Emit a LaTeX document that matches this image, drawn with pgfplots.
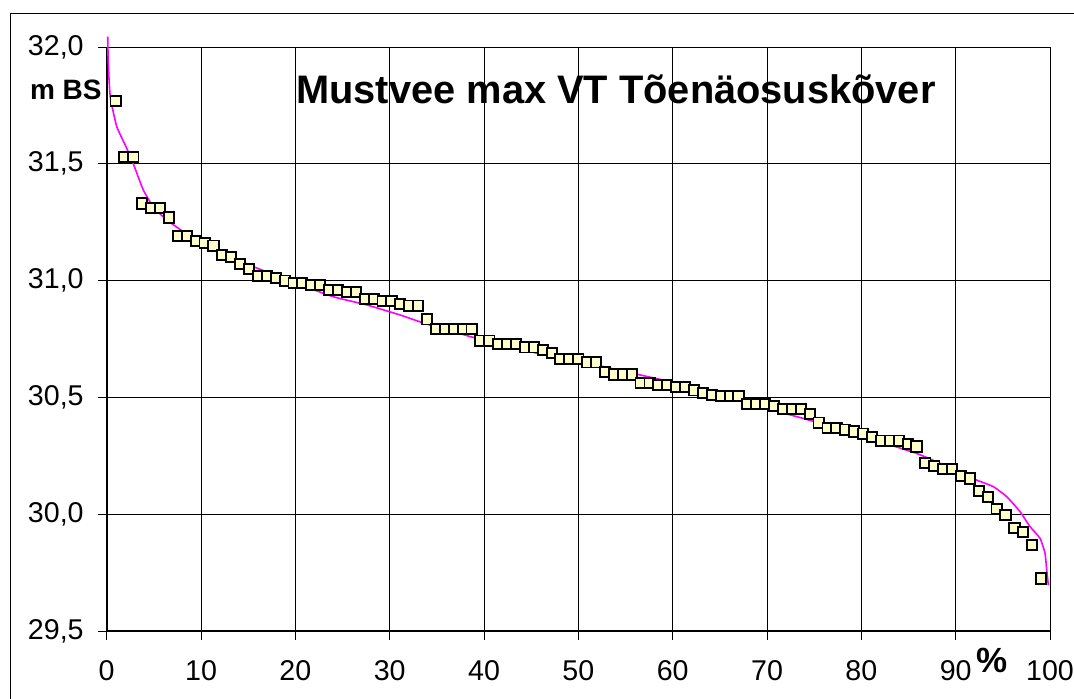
\documentclass[border=0pt]{standalone}
\usepackage{fontspec}
\setmainfont{Liberation Sans}
\usepackage{pgfplots}
\pgfplotsset{compat=1.18}
\usepackage{pgfplotstable}
\definecolor{markfill}{HTML}{FFFFCC}
\definecolor{curvecol}{HTML}{FF00FF}

\pgfplotstableread{
x y
0.94 31.77
1.89 31.53
2.83 31.53
3.77 31.33
4.72 31.31
5.66 31.31
6.60 31.27
7.55 31.19
8.49 31.19
9.43 31.17
10.38 31.16
11.32 31.15
12.26 31.11
13.21 31.10
14.15 31.07
15.09 31.05
16.04 31.02
16.98 31.02
17.92 31.01
18.87 31.00
19.81 30.99
20.75 30.99
21.70 30.98
22.64 30.98
23.58 30.96
24.53 30.96
25.47 30.95
26.42 30.95
27.36 30.92
28.30 30.92
29.25 30.913
30.19 30.913
31.13 30.90
32.08 30.893
33.02 30.893
33.96 30.834
34.91 30.794
35.85 30.794
36.79 30.794
37.74 30.794
38.68 30.794
39.62 30.743
40.57 30.743
41.51 30.729
42.45 30.729
43.40 30.729
44.34 30.714
45.28 30.714
46.23 30.703
47.17 30.689
48.11 30.664
49.06 30.664
50.00 30.664
50.94 30.65
51.89 30.65
52.83 30.608
53.77 30.598
54.72 30.598
55.66 30.598
56.60 30.561
57.55 30.561
58.49 30.552
59.43 30.552
60.38 30.546
61.32 30.546
62.26 30.530
63.21 30.518
64.15 30.511
65.09 30.505
66.04 30.505
66.98 30.505
67.92 30.473
68.87 30.473
69.81 30.473
70.75 30.464
71.70 30.449
72.64 30.449
73.58 30.449
74.53 30.428
75.47 30.392
76.42 30.369
77.36 30.369
78.30 30.362
79.25 30.354
80.19 30.345
81.13 30.330
82.08 30.315
83.02 30.315
83.96 30.315
84.91 30.300
85.85 30.290
86.79 30.218
87.74 30.205
88.68 30.195
89.62 30.195
90.57 30.164
91.51 30.153
92.45 30.100
93.40 30.075
94.34 30.021
95.28 29.997
96.23 29.942
97.17 29.923
98.11 29.868
99.06 29.725
}\pointsdata

\pgfplotstableread{
x y
0.11 32.044
0.15 31.95
0.25 31.86
0.40 31.78
1.06 31.66
2.05 31.573
2.82 31.50
3.88 31.388
4.94 31.316
6.36 31.26
8.48 31.20
11.30 31.138
15.54 31.06
20.00 30.99
24.02 30.931
27.56 30.896
31.09 30.853
33.92 30.814
38.86 30.757
42.00 30.728
46.00 30.685
50.00 30.655
55.00 30.610
60.00 30.565
65.00 30.515
70.00 30.452
73.85 30.410
78.00 30.360
82.00 30.310
85.87 30.260
88.34 30.218
90.50 30.180
92.23 30.146
93.99 30.118
95.41 30.075
96.82 30.011
97.88 29.947
98.94 29.897
99.47 29.833
99.65 29.761
99.82 29.697
}\curvedata

\begin{document}
\begin{tikzpicture}
\path[use as bounding box] (0,0) rectangle (537pt,349pt);
\draw[line width=0.5pt] (5.2pt,-2pt) -- (5.2pt,342.3pt) -- (540pt,342.3pt);
\begin{axis}[
  at={(53.35pt,33.5pt)}, anchor=south west,
  scale only axis, width=471.65pt, height=292pt,
  xmin=0, xmax=100, ymin=29.5, ymax=32.0,
  xtick={0,10,...,100}, ytick={29.5,30.0,30.5,31.0,31.5,32.0},
  grid=major, major grid style={black, line width=0.5pt},
  axis x line*=bottom, axis y line*=left,
  every non boxed x axis/.append style={x axis line style=-},
  every non boxed y axis/.append style={y axis line style=-},
  axis line style={black, line width=0.8pt},
  tick align=outside, major tick length=4.5pt,
  tick style={black, line width=0.5pt},
  clip=false,
  /pgf/number format/assume math mode=true,
  tick label style={font=\fontsize{14.3}{16}\selectfont},
  yticklabel style={/pgf/number format/.cd, fixed, fixed zerofill, precision=1, use comma, /tikz/.cd, xshift=-3.5pt},
  xticklabel style={/pgf/number format/.cd, fixed, precision=0, /tikz/.cd, yshift=-6.8pt},
]
\addplot[curvecol, line width=0.8pt, no marks, smooth, tension=0.3] table[x=x,y=y] {\curvedata};
\addplot[only marks, mark=square*, mark size=2.55pt,
  mark options={fill=markfill, draw=black, line width=0.95pt}] table[x=x,y=y] {\pointsdata};
\end{axis}
\node[anchor=base, font=\bfseries\fontsize{19.9}{22}\selectfont, inner sep=0pt] at (308pt,297.5pt) {Mustvee max VT Tõenäosuskõver};
\node[anchor=base east, font=\bfseries\fontsize{14}{16}\selectfont, inner sep=0pt] at (51pt,299.5pt) {m BS};
\node[anchor=base, font=\bfseries\fontsize{17.5}{19}\selectfont, inner sep=0pt] at (496pt,13pt) {\%};
\end{tikzpicture}
\end{document}
